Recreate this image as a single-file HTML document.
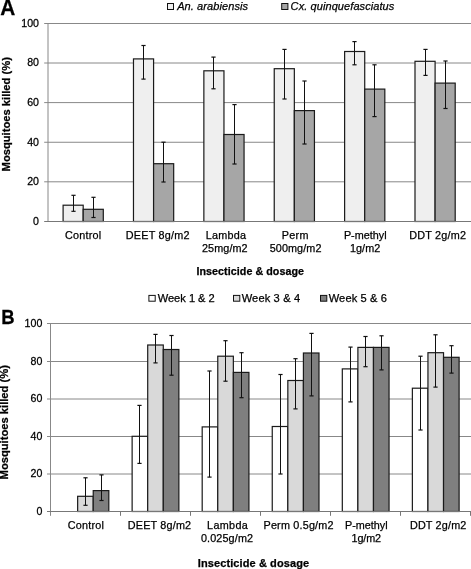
<!DOCTYPE html>
<html><head><meta charset="utf-8"><style>
html,body{margin:0;padding:0;background:#fff;}
body{width:471px;height:569px;overflow:hidden;}
svg{display:block;will-change:transform;}
text{stroke:#000;stroke-width:0.25px;}
</style></head><body>
<svg width="471" height="569" viewBox="0 0 471 569" font-family='"Liberation Sans", sans-serif' fill="#000">
<rect width="471" height="569" fill="#fff"/>
<line x1="44.20" y1="181.80" x2="471.00" y2="181.80" stroke="#888" stroke-width="1"/>
<line x1="44.20" y1="142.25" x2="471.00" y2="142.25" stroke="#888" stroke-width="1"/>
<line x1="44.20" y1="102.60" x2="471.00" y2="102.60" stroke="#888" stroke-width="1"/>
<line x1="44.20" y1="63.00" x2="471.00" y2="63.00" stroke="#888" stroke-width="1"/>
<line x1="44.20" y1="23.50" x2="471.00" y2="23.50" stroke="#888" stroke-width="1"/>
<line x1="48.00" y1="23.50" x2="48.00" y2="221.50" stroke="#888" stroke-width="1"/>
<rect x="63.10" y="205.20" width="20.10" height="16.30" fill="#efefef" stroke="#1a1a1a" stroke-width="1.2"/>
<rect x="83.20" y="209.30" width="20.10" height="12.20" fill="#a6a6a6" stroke="#1a1a1a" stroke-width="1.2"/>
<rect x="133.48" y="58.90" width="20.10" height="162.60" fill="#efefef" stroke="#1a1a1a" stroke-width="1.2"/>
<rect x="153.58" y="163.70" width="20.10" height="57.80" fill="#a6a6a6" stroke="#1a1a1a" stroke-width="1.2"/>
<rect x="203.86" y="70.80" width="20.10" height="150.70" fill="#efefef" stroke="#1a1a1a" stroke-width="1.2"/>
<rect x="223.96" y="134.50" width="20.10" height="87.00" fill="#a6a6a6" stroke="#1a1a1a" stroke-width="1.2"/>
<rect x="274.24" y="68.70" width="20.10" height="152.80" fill="#efefef" stroke="#1a1a1a" stroke-width="1.2"/>
<rect x="294.34" y="110.60" width="20.10" height="110.90" fill="#a6a6a6" stroke="#1a1a1a" stroke-width="1.2"/>
<rect x="344.62" y="51.50" width="20.10" height="170.00" fill="#efefef" stroke="#1a1a1a" stroke-width="1.2"/>
<rect x="364.72" y="89.10" width="20.10" height="132.40" fill="#a6a6a6" stroke="#1a1a1a" stroke-width="1.2"/>
<rect x="415.00" y="61.30" width="20.10" height="160.20" fill="#efefef" stroke="#1a1a1a" stroke-width="1.2"/>
<rect x="435.10" y="83.10" width="20.10" height="138.40" fill="#a6a6a6" stroke="#1a1a1a" stroke-width="1.2"/>
<line x1="73.50" y1="195.30" x2="73.50" y2="211.30" stroke="#111" stroke-width="1.0"/>
<line x1="71.40" y1="195.30" x2="75.60" y2="195.30" stroke="#111" stroke-width="1.2"/>
<line x1="71.40" y1="211.30" x2="75.60" y2="211.30" stroke="#111" stroke-width="1.2"/>
<line x1="93.50" y1="197.30" x2="93.50" y2="217.50" stroke="#111" stroke-width="1.0"/>
<line x1="91.40" y1="197.30" x2="95.60" y2="197.30" stroke="#111" stroke-width="1.2"/>
<line x1="91.40" y1="217.50" x2="95.60" y2="217.50" stroke="#111" stroke-width="1.2"/>
<line x1="143.50" y1="45.50" x2="143.50" y2="79.10" stroke="#111" stroke-width="1.0"/>
<line x1="141.40" y1="45.50" x2="145.60" y2="45.50" stroke="#111" stroke-width="1.2"/>
<line x1="141.40" y1="79.10" x2="145.60" y2="79.10" stroke="#111" stroke-width="1.2"/>
<line x1="163.50" y1="142.20" x2="163.50" y2="182.00" stroke="#111" stroke-width="1.0"/>
<line x1="161.40" y1="142.20" x2="165.60" y2="142.20" stroke="#111" stroke-width="1.2"/>
<line x1="161.40" y1="182.00" x2="165.60" y2="182.00" stroke="#111" stroke-width="1.2"/>
<line x1="213.50" y1="57.10" x2="213.50" y2="88.80" stroke="#111" stroke-width="1.0"/>
<line x1="211.40" y1="57.10" x2="215.60" y2="57.10" stroke="#111" stroke-width="1.2"/>
<line x1="211.40" y1="88.80" x2="215.60" y2="88.80" stroke="#111" stroke-width="1.2"/>
<line x1="234.50" y1="104.60" x2="234.50" y2="164.00" stroke="#111" stroke-width="1.0"/>
<line x1="232.40" y1="104.60" x2="236.60" y2="104.60" stroke="#111" stroke-width="1.2"/>
<line x1="232.40" y1="164.00" x2="236.60" y2="164.00" stroke="#111" stroke-width="1.2"/>
<line x1="284.50" y1="49.40" x2="284.50" y2="99.00" stroke="#111" stroke-width="1.0"/>
<line x1="282.40" y1="49.40" x2="286.60" y2="49.40" stroke="#111" stroke-width="1.2"/>
<line x1="282.40" y1="99.00" x2="286.60" y2="99.00" stroke="#111" stroke-width="1.2"/>
<line x1="304.50" y1="81.00" x2="304.50" y2="144.00" stroke="#111" stroke-width="1.0"/>
<line x1="302.40" y1="81.00" x2="306.60" y2="81.00" stroke="#111" stroke-width="1.2"/>
<line x1="302.40" y1="144.00" x2="306.60" y2="144.00" stroke="#111" stroke-width="1.2"/>
<line x1="354.50" y1="41.60" x2="354.50" y2="64.80" stroke="#111" stroke-width="1.0"/>
<line x1="352.40" y1="41.60" x2="356.60" y2="41.60" stroke="#111" stroke-width="1.2"/>
<line x1="352.40" y1="64.80" x2="356.60" y2="64.80" stroke="#111" stroke-width="1.2"/>
<line x1="374.50" y1="64.80" x2="374.50" y2="116.60" stroke="#111" stroke-width="1.0"/>
<line x1="372.40" y1="64.80" x2="376.60" y2="64.80" stroke="#111" stroke-width="1.2"/>
<line x1="372.40" y1="116.60" x2="376.60" y2="116.60" stroke="#111" stroke-width="1.2"/>
<line x1="425.50" y1="49.40" x2="425.50" y2="75.40" stroke="#111" stroke-width="1.0"/>
<line x1="423.40" y1="49.40" x2="427.60" y2="49.40" stroke="#111" stroke-width="1.2"/>
<line x1="423.40" y1="75.40" x2="427.60" y2="75.40" stroke="#111" stroke-width="1.2"/>
<line x1="445.50" y1="61.00" x2="445.50" y2="108.50" stroke="#111" stroke-width="1.0"/>
<line x1="443.40" y1="61.00" x2="447.60" y2="61.00" stroke="#111" stroke-width="1.2"/>
<line x1="443.40" y1="108.50" x2="447.60" y2="108.50" stroke="#111" stroke-width="1.2"/>
<line x1="44.20" y1="221.50" x2="471.00" y2="221.50" stroke="#777" stroke-width="1"/>
<text x="0.00" y="0.00" font-size="10.3" text-anchor="end" font-weight="normal" font-style="normal" transform="translate(39.0 224.85) scale(1.03 1)">0</text>
<text x="0.00" y="0.00" font-size="10.3" text-anchor="end" font-weight="normal" font-style="normal" transform="translate(39.0 185.20) scale(1.03 1)">20</text>
<text x="0.00" y="0.00" font-size="10.3" text-anchor="end" font-weight="normal" font-style="normal" transform="translate(39.0 145.65) scale(1.03 1)">40</text>
<text x="0.00" y="0.00" font-size="10.3" text-anchor="end" font-weight="normal" font-style="normal" transform="translate(39.0 106.00) scale(1.03 1)">60</text>
<text x="0.00" y="0.00" font-size="10.3" text-anchor="end" font-weight="normal" font-style="normal" transform="translate(39.0 66.40) scale(1.03 1)">80</text>
<text x="0.00" y="0.00" font-size="10.3" text-anchor="end" font-weight="normal" font-style="normal" transform="translate(39.0 26.90) scale(1.03 1)">100</text>
<text x="0.00" y="0.00" font-size="11.2" text-anchor="middle" font-weight="bold" font-style="normal" transform="translate(9.6 114.25) rotate(-90)">Mosquitoes killed (%)</text>
<text x="0.00" y="0.00" font-size="20.8" text-anchor="start" font-weight="bold" font-style="normal" transform="translate(0.3 14.7) scale(1 1.07)">A</text>
<rect x="167.5" y="3.5" width="6" height="6" fill="#efefef" stroke="#111" stroke-width="1"/>
<rect x="281.7" y="3.5" width="6.2" height="6" fill="#a6a6a6" stroke="#111" stroke-width="1"/>
<line x1="47.00" y1="474.00" x2="471.00" y2="474.00" stroke="#888" stroke-width="1"/>
<line x1="47.00" y1="436.50" x2="471.00" y2="436.50" stroke="#888" stroke-width="1"/>
<line x1="47.00" y1="399.00" x2="471.00" y2="399.00" stroke="#888" stroke-width="1"/>
<line x1="47.00" y1="361.50" x2="471.00" y2="361.50" stroke="#888" stroke-width="1"/>
<line x1="47.00" y1="323.50" x2="471.00" y2="323.50" stroke="#888" stroke-width="1"/>
<line x1="50.50" y1="323.50" x2="50.50" y2="515.80" stroke="#888" stroke-width="1"/>
<rect x="77.65" y="496.30" width="15.58" height="15.20" fill="#d9d9d9" stroke="#1a1a1a" stroke-width="1.2"/>
<rect x="93.23" y="490.60" width="15.58" height="20.90" fill="#7f7f7f" stroke="#1a1a1a" stroke-width="1.2"/>
<rect x="132.13" y="436.30" width="15.58" height="75.20" fill="#ffffff" stroke="#1a1a1a" stroke-width="1.2"/>
<rect x="147.71" y="345.00" width="15.58" height="166.50" fill="#d9d9d9" stroke="#1a1a1a" stroke-width="1.2"/>
<rect x="163.29" y="349.50" width="15.58" height="162.00" fill="#7f7f7f" stroke="#1a1a1a" stroke-width="1.2"/>
<rect x="202.19" y="426.90" width="15.58" height="84.60" fill="#ffffff" stroke="#1a1a1a" stroke-width="1.2"/>
<rect x="217.77" y="356.20" width="15.58" height="155.30" fill="#d9d9d9" stroke="#1a1a1a" stroke-width="1.2"/>
<rect x="233.35" y="372.40" width="15.58" height="139.10" fill="#7f7f7f" stroke="#1a1a1a" stroke-width="1.2"/>
<rect x="272.25" y="426.50" width="15.58" height="85.00" fill="#ffffff" stroke="#1a1a1a" stroke-width="1.2"/>
<rect x="287.83" y="380.50" width="15.58" height="131.00" fill="#d9d9d9" stroke="#1a1a1a" stroke-width="1.2"/>
<rect x="303.41" y="353.00" width="15.58" height="158.50" fill="#7f7f7f" stroke="#1a1a1a" stroke-width="1.2"/>
<rect x="342.31" y="368.90" width="15.58" height="142.60" fill="#ffffff" stroke="#1a1a1a" stroke-width="1.2"/>
<rect x="357.89" y="347.40" width="15.58" height="164.10" fill="#d9d9d9" stroke="#1a1a1a" stroke-width="1.2"/>
<rect x="373.47" y="347.40" width="15.58" height="164.10" fill="#7f7f7f" stroke="#1a1a1a" stroke-width="1.2"/>
<rect x="412.37" y="388.20" width="15.58" height="123.30" fill="#ffffff" stroke="#1a1a1a" stroke-width="1.2"/>
<rect x="427.95" y="352.70" width="15.58" height="158.80" fill="#d9d9d9" stroke="#1a1a1a" stroke-width="1.2"/>
<rect x="443.53" y="357.30" width="15.58" height="154.20" fill="#7f7f7f" stroke="#1a1a1a" stroke-width="1.2"/>
<line x1="85.50" y1="477.80" x2="85.50" y2="505.30" stroke="#111" stroke-width="1.0"/>
<line x1="83.40" y1="477.80" x2="87.60" y2="477.80" stroke="#111" stroke-width="1.2"/>
<line x1="83.40" y1="505.30" x2="87.60" y2="505.30" stroke="#111" stroke-width="1.2"/>
<line x1="101.50" y1="474.90" x2="101.50" y2="500.50" stroke="#111" stroke-width="1.0"/>
<line x1="99.40" y1="474.90" x2="103.60" y2="474.90" stroke="#111" stroke-width="1.2"/>
<line x1="99.40" y1="500.50" x2="103.60" y2="500.50" stroke="#111" stroke-width="1.2"/>
<line x1="139.50" y1="405.40" x2="139.50" y2="463.40" stroke="#111" stroke-width="1.0"/>
<line x1="137.40" y1="405.40" x2="141.60" y2="405.40" stroke="#111" stroke-width="1.2"/>
<line x1="137.40" y1="463.40" x2="141.60" y2="463.40" stroke="#111" stroke-width="1.2"/>
<line x1="155.50" y1="334.40" x2="155.50" y2="362.90" stroke="#111" stroke-width="1.0"/>
<line x1="153.40" y1="334.40" x2="157.60" y2="334.40" stroke="#111" stroke-width="1.2"/>
<line x1="153.40" y1="362.90" x2="157.60" y2="362.90" stroke="#111" stroke-width="1.2"/>
<line x1="171.50" y1="335.50" x2="171.50" y2="375.20" stroke="#111" stroke-width="1.0"/>
<line x1="169.40" y1="335.50" x2="173.60" y2="335.50" stroke="#111" stroke-width="1.2"/>
<line x1="169.40" y1="375.20" x2="173.60" y2="375.20" stroke="#111" stroke-width="1.2"/>
<line x1="209.50" y1="371.00" x2="209.50" y2="477.10" stroke="#111" stroke-width="1.0"/>
<line x1="207.40" y1="371.00" x2="211.60" y2="371.00" stroke="#111" stroke-width="1.2"/>
<line x1="207.40" y1="477.10" x2="211.60" y2="477.10" stroke="#111" stroke-width="1.2"/>
<line x1="225.50" y1="340.70" x2="225.50" y2="381.20" stroke="#111" stroke-width="1.0"/>
<line x1="223.40" y1="340.70" x2="227.60" y2="340.70" stroke="#111" stroke-width="1.2"/>
<line x1="223.40" y1="381.20" x2="227.60" y2="381.20" stroke="#111" stroke-width="1.2"/>
<line x1="241.50" y1="352.70" x2="241.50" y2="397.70" stroke="#111" stroke-width="1.0"/>
<line x1="239.40" y1="352.70" x2="243.60" y2="352.70" stroke="#111" stroke-width="1.2"/>
<line x1="239.40" y1="397.70" x2="243.60" y2="397.70" stroke="#111" stroke-width="1.2"/>
<line x1="280.50" y1="374.50" x2="280.50" y2="474.00" stroke="#111" stroke-width="1.0"/>
<line x1="278.40" y1="374.50" x2="282.60" y2="374.50" stroke="#111" stroke-width="1.2"/>
<line x1="278.40" y1="474.00" x2="282.60" y2="474.00" stroke="#111" stroke-width="1.2"/>
<line x1="295.50" y1="358.70" x2="295.50" y2="408.90" stroke="#111" stroke-width="1.0"/>
<line x1="293.40" y1="358.70" x2="297.60" y2="358.70" stroke="#111" stroke-width="1.2"/>
<line x1="293.40" y1="408.90" x2="297.60" y2="408.90" stroke="#111" stroke-width="1.2"/>
<line x1="311.50" y1="333.40" x2="311.50" y2="395.90" stroke="#111" stroke-width="1.0"/>
<line x1="309.40" y1="333.40" x2="313.60" y2="333.40" stroke="#111" stroke-width="1.2"/>
<line x1="309.40" y1="395.90" x2="313.60" y2="395.90" stroke="#111" stroke-width="1.2"/>
<line x1="350.50" y1="347.10" x2="350.50" y2="401.90" stroke="#111" stroke-width="1.0"/>
<line x1="348.40" y1="347.10" x2="352.60" y2="347.10" stroke="#111" stroke-width="1.2"/>
<line x1="348.40" y1="401.90" x2="352.60" y2="401.90" stroke="#111" stroke-width="1.2"/>
<line x1="365.50" y1="336.50" x2="365.50" y2="366.70" stroke="#111" stroke-width="1.0"/>
<line x1="363.40" y1="336.50" x2="367.60" y2="336.50" stroke="#111" stroke-width="1.2"/>
<line x1="363.40" y1="366.70" x2="367.60" y2="366.70" stroke="#111" stroke-width="1.2"/>
<line x1="381.50" y1="335.80" x2="381.50" y2="369.90" stroke="#111" stroke-width="1.0"/>
<line x1="379.40" y1="335.80" x2="383.60" y2="335.80" stroke="#111" stroke-width="1.2"/>
<line x1="379.40" y1="369.90" x2="383.60" y2="369.90" stroke="#111" stroke-width="1.2"/>
<line x1="420.50" y1="356.20" x2="420.50" y2="430.00" stroke="#111" stroke-width="1.0"/>
<line x1="418.40" y1="356.20" x2="422.60" y2="356.20" stroke="#111" stroke-width="1.2"/>
<line x1="418.40" y1="430.00" x2="422.60" y2="430.00" stroke="#111" stroke-width="1.2"/>
<line x1="435.50" y1="334.80" x2="435.50" y2="387.10" stroke="#111" stroke-width="1.0"/>
<line x1="433.40" y1="334.80" x2="437.60" y2="334.80" stroke="#111" stroke-width="1.2"/>
<line x1="433.40" y1="387.10" x2="437.60" y2="387.10" stroke="#111" stroke-width="1.2"/>
<line x1="451.50" y1="345.70" x2="451.50" y2="373.10" stroke="#111" stroke-width="1.0"/>
<line x1="449.40" y1="345.70" x2="453.60" y2="345.70" stroke="#111" stroke-width="1.2"/>
<line x1="449.40" y1="373.10" x2="453.60" y2="373.10" stroke="#111" stroke-width="1.2"/>
<line x1="47.00" y1="511.50" x2="471.00" y2="511.50" stroke="#777" stroke-width="1"/>
<line x1="120.50" y1="511.50" x2="120.50" y2="515.80" stroke="#777" stroke-width="1"/>
<line x1="190.50" y1="511.50" x2="190.50" y2="515.80" stroke="#777" stroke-width="1"/>
<line x1="260.50" y1="511.50" x2="260.50" y2="515.80" stroke="#777" stroke-width="1"/>
<line x1="330.50" y1="511.50" x2="330.50" y2="515.80" stroke="#777" stroke-width="1"/>
<line x1="400.50" y1="511.50" x2="400.50" y2="515.80" stroke="#777" stroke-width="1"/>
<line x1="470.50" y1="511.50" x2="470.50" y2="515.80" stroke="#777" stroke-width="1"/>
<text x="0.00" y="0.00" font-size="10.3" text-anchor="end" font-weight="normal" font-style="normal" transform="translate(42.3 514.80) scale(1.03 1)">0</text>
<text x="0.00" y="0.00" font-size="10.3" text-anchor="end" font-weight="normal" font-style="normal" transform="translate(42.3 477.30) scale(1.03 1)">20</text>
<text x="0.00" y="0.00" font-size="10.3" text-anchor="end" font-weight="normal" font-style="normal" transform="translate(42.3 439.80) scale(1.03 1)">40</text>
<text x="0.00" y="0.00" font-size="10.3" text-anchor="end" font-weight="normal" font-style="normal" transform="translate(42.3 402.30) scale(1.03 1)">60</text>
<text x="0.00" y="0.00" font-size="10.3" text-anchor="end" font-weight="normal" font-style="normal" transform="translate(42.3 364.80) scale(1.03 1)">80</text>
<text x="0.00" y="0.00" font-size="10.3" text-anchor="end" font-weight="normal" font-style="normal" transform="translate(42.3 326.80) scale(1.03 1)">100</text>
<text x="0.00" y="0.00" font-size="11.2" text-anchor="middle" font-weight="bold" font-style="normal" transform="translate(8.1 422.25) rotate(-90)">Mosquitoes killed (%)</text>
<text x="0.00" y="0.00" font-size="20.8" text-anchor="start" font-weight="bold" font-style="normal" transform="translate(1.36 324.0) scale(0.89 1)">B</text>
<rect x="148.9" y="295.4" width="6.3" height="5.8" fill="#ffffff" stroke="#111" stroke-width="1"/>
<rect x="233.5" y="295.4" width="6.3" height="5.8" fill="#d9d9d9" stroke="#111" stroke-width="1"/>
<rect x="320.5" y="295.4" width="6.3" height="5.8" fill="#7f7f7f" stroke="#111" stroke-width="1"/>
<text x="65.00" y="238.70" font-size="10.8" font-weight="normal" font-style="normal" textLength="36.21" lengthAdjust="spacing">Control</text>
<text x="125.80" y="238.70" font-size="10.8" font-weight="normal" font-style="normal" textLength="63.61" lengthAdjust="spacing">DEET 8g/m2</text>
<text x="205.70" y="238.70" font-size="10.8" font-weight="normal" font-style="normal" textLength="40.33" lengthAdjust="spacing">Lambda</text>
<text x="202.00" y="252.10" font-size="10.8" font-weight="normal" font-style="normal" textLength="45.62" lengthAdjust="spacing">25mg/m2</text>
<text x="281.80" y="238.60" font-size="10.8" font-weight="normal" font-style="normal" textLength="26.60" lengthAdjust="spacing">Perm</text>
<text x="269.70" y="252.10" font-size="10.8" font-weight="normal" font-style="normal" textLength="51.72" lengthAdjust="spacing">500mg/m2</text>
<text x="343.90" y="238.90" font-size="10.8" font-weight="normal" font-style="normal" textLength="42.71" lengthAdjust="spacing">P-methyl</text>
<text x="349.90" y="252.40" font-size="10.8" font-weight="normal" font-style="normal" textLength="30.32" lengthAdjust="spacing">1g/m2</text>
<text x="409.30" y="238.70" font-size="10.8" font-weight="normal" font-style="normal" textLength="56.62" lengthAdjust="spacing">DDT 2g/m2</text>
<text x="196.50" y="274.70" font-size="10.7" font-weight="bold" font-style="normal" textLength="107.43" lengthAdjust="spacing">Insecticide &amp; dosage</text>
<text x="67.80" y="529.30" font-size="10.8" font-weight="normal" font-style="normal" textLength="36.01" lengthAdjust="spacing">Control</text>
<text x="127.80" y="529.20" font-size="10.8" font-weight="normal" font-style="normal" textLength="63.31" lengthAdjust="spacing">DEET 8g/m2</text>
<text x="207.10" y="529.10" font-size="10.8" font-weight="normal" font-style="normal" textLength="40.73" lengthAdjust="spacing">Lambda</text>
<text x="200.90" y="542.20" font-size="10.8" font-weight="normal" font-style="normal" textLength="52.13" lengthAdjust="spacing">0.025g/m2</text>
<text x="263.50" y="529.40" font-size="10.8" font-weight="normal" font-style="normal" textLength="70.01" lengthAdjust="spacing">Perm 0.5g/m2</text>
<text x="345.10" y="529.10" font-size="10.8" font-weight="normal" font-style="normal" textLength="42.51" lengthAdjust="spacing">P-methyl</text>
<text x="351.50" y="542.40" font-size="10.8" font-weight="normal" font-style="normal" textLength="29.62" lengthAdjust="spacing">1g/m2</text>
<text x="409.90" y="529.30" font-size="10.8" font-weight="normal" font-style="normal" textLength="56.42" lengthAdjust="spacing">DDT 2g/m2</text>
<text x="197.80" y="566.80" font-size="11.0" font-weight="bold" font-style="normal" textLength="111.34" lengthAdjust="spacing">Insecticide &amp; dosage</text>
<text x="177.20" y="9.90" font-size="11.0" font-weight="normal" font-style="italic" textLength="70.82" lengthAdjust="spacing">An. arabiensis</text>
<text x="290.60" y="9.90" font-size="11.0" font-weight="normal" font-style="italic" textLength="103.72" lengthAdjust="spacing">Cx. quinquefasciatus</text>
<text x="157.70" y="301.60" font-size="11.1" font-weight="normal" font-style="normal" textLength="57.06" lengthAdjust="spacing">Week 1 &amp; 2</text>
<text x="241.70" y="301.60" font-size="11.1" font-weight="normal" font-style="normal" textLength="58.36" lengthAdjust="spacing">Week 3 &amp; 4</text>
<text x="328.70" y="301.60" font-size="11.1" font-weight="normal" font-style="normal" textLength="58.26" lengthAdjust="spacing">Week 5 &amp; 6</text>
</svg>
</body></html>
